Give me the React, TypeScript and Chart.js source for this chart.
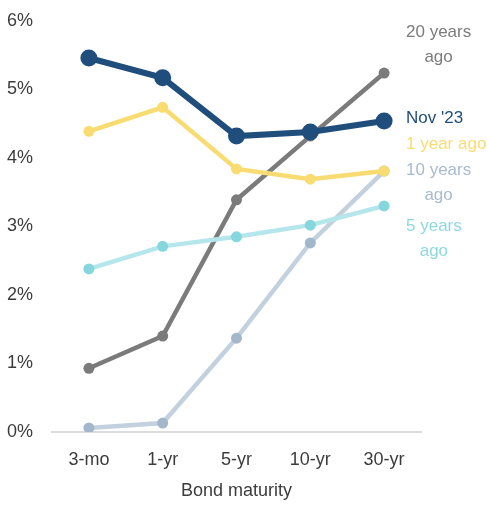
import React, { useEffect, useRef } from "react";
import { Chart, registerables } from "chart.js";

Chart.register(...registerables);

const categories = ["3-mo", "1-yr", "5-yr", "10-yr", "30-yr"];
const yTicks = [0, 1, 2, 3, 4, 5, 6];

const seriesNames = ["Nov '23", "1 year ago", "5 years ago", "20 years ago", "10 years ago"];
const nov23 = [5.46, 5.17, 4.32, 4.38, 4.54];
const oneYearAgo = [4.39, 4.74, 3.84, 3.69, 3.81];
const fiveYearsAgo = [2.38, 2.71, 2.85, 3.02, 3.3];
const twentyYearsAgo = [0.93, 1.4, 3.39, 4.32, 5.24];
const tenYearsAgo = [0.06, 0.13, 1.37, 2.76, 3.81];

const seriesLabelLines = [["Nov '23"], ["1 year ago"], ["5 years", "ago"], ["20 years", "ago"], ["10 years", "ago"]];

const FONT = "'Liberation Sans', Arial, sans-serif";

export default function App() {
  const ref = useRef<HTMLCanvasElement | null>(null);

  useEffect(() => {
    if (!ref.current) return;
    const lineColors = ["#1f4e7c", "#f8dc72", "#b4e6eb", "#7b7b7b", "#c3d1df"];
    const dotColors = ["#1f4e7c", "#f8dc72", "#86d6de", "#7b7b7b", "#a2b7cc"];
    const textColors = ["#1f4e7c", "#f8dc72", "#8fd8e0", "#7b7b7b", "#a8bbd0"];
    const values = [nov23, oneYearAgo, fiveYearsAgo, twentyYearsAgo, tenYearsAgo];
    // label baseline anchors, in axis (percent) units
    const labelBaselines = [4.511, 4.131, 2.934, 5.766, 3.752];
    const lineGap = 25;

    const labelPlugin = {
      id: "seriesLabels",
      afterDatasetsDraw(chart: any) {
        const { ctx, chartArea, scales } = chart;
        ctx.save();
        ctx.font = `17px ${FONT}`;
        ctx.textBaseline = "alphabetic";
        ctx.textAlign = "center";
        const left = chartArea.right - 15;
        seriesLabelLines.forEach((lines, i) => {
          const w = Math.max(...lines.map((l) => ctx.measureText(l).width));
          const cx = left + w / 2;
          const y0 = scales.y.getPixelForValue(labelBaselines[i]);
          ctx.fillStyle = textColors[i];
          lines.forEach((l, j) => ctx.fillText(l, cx, y0 + j * lineGap));
        });
        ctx.restore();
      },
    };

    const chart = new Chart(ref.current, {
      type: "line",
      data: {
        labels: categories,
        datasets: seriesNames.map((name, i) => ({
          label: name,
          data: values[i],
          borderColor: lineColors[i],
          backgroundColor: dotColors[i],
          pointBackgroundColor: dotColors[i],
          pointBorderColor: dotColors[i],
          borderWidth: i === 0 ? 6 : 4.5,
          pointRadius: i === 0 ? 8.5 : 5.5,
          pointBorderWidth: 0,
          tension: 0,
        })),
      },
      options: {
        animation: false,
        responsive: true,
        maintainAspectRatio: false,
        layout: { padding: { top: 21, right: 66, left: 0, bottom: 0 } },
        plugins: { legend: { display: false }, tooltip: { enabled: false } },
        scales: {
          x: {
            offset: true,
            grid: { display: false, drawTicks: false },
            border: { display: true, color: "#dcdcdc", width: 2 },
            ticks: { color: "#3c3c3c", font: { family: FONT, size: 18 }, padding: 17, maxRotation: 0 },
            title: {
              display: true,
              text: "Bond maturity",
              color: "#3c3c3c",
              font: { family: FONT, size: 18 },
              padding: { top: 0, bottom: 4 },
            },
            afterFit(scale: any) {
              scale.height = 74;
              scale.paddingLeft = 0;
              scale.paddingRight = 0;
            },
          },
          y: {
            min: 0,
            max: 6,
            grid: { display: false, drawTicks: false },
            border: { display: false },
            afterBuildTicks(scale: any) {
              scale.ticks = yTicks.map((v) => ({ value: v }));
            },
            ticks: {
              color: "#3c3c3c",
              font: { family: FONT, size: 18 },
              padding: 19,
              callback: (v: any) => `${v}%`,
            },
            afterFit(scale: any) {
              scale.width = 52;
              scale.paddingTop = 0;
              scale.paddingBottom = 0;
            },
          },
        },
      },
      plugins: [labelPlugin],
    });
    return () => chart.destroy();
  }, []);

  return (
    <div style={{ position: "absolute", left: 0, top: 0, width: 487, height: 506 }}>
      <canvas ref={ref} />
    </div>
  );
}
